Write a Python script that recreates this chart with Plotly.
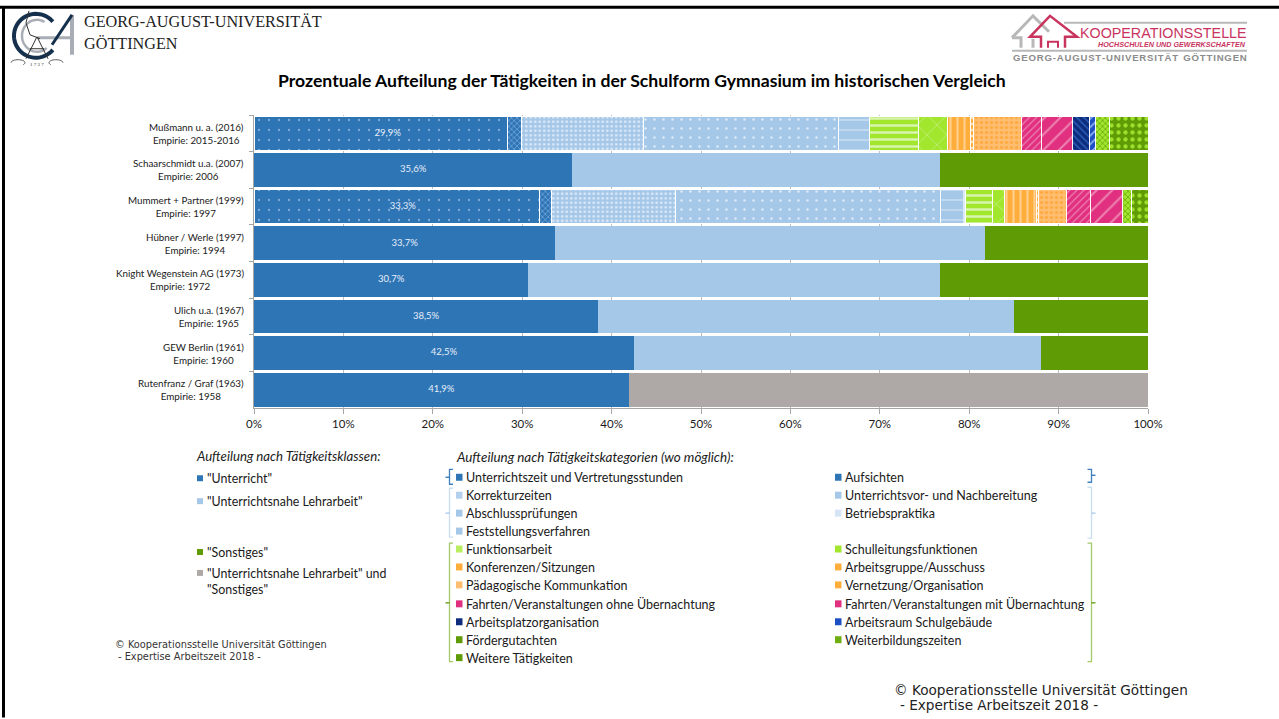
import numpy as np
import plotly.graph_objects as go

W, H = 1279, 719
PL, PR, PT, PB = 254, 1148, 114.5, 408.5

studies = ["Mußmann u. a. (2016)", "Schaarschmidt u.a. (2007)", "Mummert + Partner (1999)",
           "Hübner / Werle (1997)", "Knight Wegenstein AG (1973)", "Ulich u.a. (1967)",
           "GEW Berlin (1961)", "Rutenfranz / Graf (1963)"]
empirie = ["Empirie: 2015-2016", "Empirie: 2006", "Empirie: 1997", "Empirie: 1994",
           "Empirie: 1972", "Empirie: 1965", "Empirie: 1960", "Empirie: 1958"]
unterricht_total = [29.9, 35.6, 33.3, 33.7, 30.7, 38.5, 42.5, 41.9]

unterrichtszeit = [28.4, None, 31.9, None, None, None, None, None]
unterricht_gesamt = [None, 35.6, None, 33.7, 30.7, 38.5, 42.5, 41.9]
aufsichten = [1.5, None, 1.4, None, None, None, None, None]
korrektur = [13.7, None, 13.8, None, None, None, None, None]
vorbereitung = [21.8, None, 29.7, None, None, None, None, None]
nahe_gesamt = [None, 41.1, None, 48.1, 46.0, 46.5, 45.5, None]
abschluss = [3.4, None, 2.6, None, None, None, None, None]
betrieb = [0.1, None, 0.2, None, None, None, None, None]
funktion = [5.4, None, 3.0, None, None, None, None, None]
schulleitung = [3.3, None, 1.4, None, None, None, None, None]
konferenzen = [2.5, None, 3.5, None, None, None, None, None]
arbeitsgruppe = [0.4, None, 0.2, None, None, None, None, None]
paedagogik = [5.4, None, 3.2, None, None, None, None, None]
fahrten_ohne = [2.2, None, 2.7, None, None, None, None, None]
fahrten_mit = [3.4, None, 3.6, None, None, None, None, None]
platz = [2.0, None, None, None, None, None, None, None]
raum = [0.6, None, None, None, None, None, None, None]
foerder = [1.6, None, 1.0, None, None, None, None, None]
weiterbildung = [4.3, None, 1.8, None, None, None, None, None]
sonstiges = [None, 23.3, None, 18.2, 23.3, 15.0, 12.0, None]
nahe_und_sonstiges = [None, None, None, None, None, None, None, 58.1]

x_ticks = [0, 10, 20, 30, 40, 50, 60, 70, 80, 90, 100]

title_text = "Prozentuale Aufteilung der Tätigkeiten in der Schulform Gymnasium im historischen Vergleich"
klassen_title = "Aufteilung nach Tätigkeitsklassen:"
kategorien_title = "Aufteilung nach Tätigkeitskategorien (wo möglich):"
klassen_legend = ['"Unterricht"', '"Unterrichtsnahe Lehrarbeit"', '"Sonstiges"',
                  '"Unterrichtsnahe Lehrarbeit" und<br>"Sonstiges"']
kat_left = ["Unterrichtszeit und Vertretungsstunden", "Korrekturzeiten", "Abschlussprüfungen",
            "Feststellungsverfahren", "Funktionsarbeit", "Konferenzen/Sitzungen",
            "Pädagogische Kommunkation", "Fahrten/Veranstaltungen ohne Übernachtung",
            "Arbeitsplatzorganisation", "Fördergutachten", "Weitere Tätigkeiten"]
kat_right = ["Aufsichten", "Unterrichtsvor- und Nachbereitung", "Betriebspraktika", None,
             "Schulleitungsfunktionen", "Arbeitsgruppe/Ausschuss", "Vernetzung/Organisation",
             "Fahrten/Veranstaltungen mit Übernachtung", "Arbeitsraum Schulgebäude", "Weiterbildungszeiten", None]

BLUE, LBLUE, GREEN, GRAY = "#2e75b6", "#a5c7e8", "#5f9b05", "#aea8a6"
LIME, ORANGE, LORANGE, PINK, NAVY = "#a2e62e", "#ffad3b", "#ffbd70", "#e0307f", "#0d2c7c"


def pat(bg, fg, shape, size, sol):
    return dict(bgcolor=bg, fgcolor=fg, fgopacity=1, shape=shape, size=size, solidity=sol)


series = [
    ("Unterrichtszeit", unterrichtszeit, BLUE, pat(BLUE, "#7fabd8", ".", 10, 0.04)),
    ("Unterricht", unterricht_gesamt, BLUE, None),
    ("Aufsichten", aufsichten, BLUE, pat(BLUE, "#7fb0e0", "x", 4, 0.3)),
    ("Korrekturzeiten", korrektur, LBLUE, pat(LBLUE, "#d8e8f8", ".", 4.5, 0.3)),
    ("Vorbereitung", vorbereitung, LBLUE, pat(LBLUE, "#dcebfa", ".", 9, 0.06)),
    ("Unterrichtsnahe Lehrarbeit", nahe_gesamt, LBLUE, None),
    ("Abschlussprüfungen", abschluss, LBLUE, pat(LBLUE, "#c9dff4", "-", 10, 0.15)),
    ("Betriebspraktika", betrieb, "#dce9f6", None),
    ("Funktionsarbeit", funktion, LIME, pat(LIME, "#d9f5b0", "-", 7, 0.35)),
    ("Schulleitungsfunktionen", schulleitung, LIME, pat(LIME, "#c8f08a", "x", 14, 0.1)),
    ("Konferenzen/Sitzungen", konferenzen, ORANGE, pat(ORANGE, "#ffd08f", "|", 7, 0.3)),
    ("Arbeitsgruppe/Ausschuss", arbeitsgruppe, ORANGE, pat(ORANGE, "#ffe0b5", "-", 6, 0.4)),
    ("Pädagogische Kommunikation", paedagogik, LORANGE, pat(LORANGE, "#ffa940", ".", 5, 0.3)),
    ("Fahrten ohne", fahrten_ohne, PINK, pat(PINK, "#ee80b0", "/", 5, 0.25)),
    ("Fahrten mit", fahrten_mit, PINK, pat(PINK, "#ee80b0", "/", 11, 0.2)),
    ("Arbeitsplatzorganisation", platz, NAVY, pat(NAVY, "#2a5cb8", "\\", 5, 0.3)),
    ("Arbeitsraum Schulgebäude", raum, "#1d4fc4", pat("#1d4fc4", "#8cb0f0", "/", 6, 0.3)),
    ("Fördergutachten", foerder, LIME, pat(LIME, "#5f9b05", "x", 4, 0.3)),
    ("Weiterbildungszeiten", weiterbildung, GREEN, pat(GREEN, "#9edf2b", ".", 7, 0.3)),
    ("Sonstiges", sonstiges, GREEN, None),
    ("Unterrichtsnahe Lehrarbeit und Sonstiges", nahe_und_sonstiges, GRAY, None),
]

fig = go.Figure()
for name, vals, col, pattern in series:
    marker = dict(color=col, line=dict(color="white", width=1 if pattern else 0))
    if pattern:
        marker["pattern"] = pattern
    fig.add_trace(go.Bar(name=name, y=studies, x=vals, orientation="h", marker=marker,
                         hoverinfo="skip", showlegend=False))

fig.add_trace(go.Scatter(x=[v / 2 for v in unterricht_total], y=studies, mode="text",
                         text=[f"{v:.1f}%".replace(".", ",") for v in unterricht_total],
                         textposition="middle center",
                         textfont=dict(family="Lato", size=9.5, color="#e6eef8"),
                         hoverinfo="skip", showlegend=False))


def px(x):
    return (x - PL) / (PR - PL)


def py(y):
    return (PB - y) / (PB - PT)


annots, shapes = [], []


def text(x, y, s, size=12, family="Lato", color="#1a1a1a", xanchor="left", align="left", italic=False, bold=False):
    if italic:
        s = f"<i>{s}</i>"
    if bold:
        s = f"<b>{s}</b>"
    annots.append(dict(x=px(x), y=py(y), xref="paper", yref="paper", text=s, showarrow=False,
                       xanchor=xanchor, yanchor="middle", align=align, borderpad=0, borderwidth=0,
                       font=dict(family=family, size=size, color=color)))


def poly(points, color, width=1, fill=None, closed=False):
    d = "M " + " L ".join(f"{px(a):.5f},{py(b):.5f}" for a, b in points) + (" Z" if closed else "")
    s = dict(type="path", path=d, xref="paper", yref="paper", line=dict(color=color, width=width))
    if fill:
        s["fillcolor"] = fill
    shapes.append(s)


def rect(x0, y0, x1, y1, color):
    shapes.append(dict(type="rect", xref="paper", yref="paper", x0=px(x0), x1=px(x1),
                       y0=py(y0), y1=py(y1), fillcolor=color, line=dict(width=0)))


def arc(cx, cy, rx, ry, a0, a1, n=50):
    t = np.radians(np.linspace(a0, a1, n))
    return list(zip(cx + rx * np.cos(t), cy + ry * np.sin(t)))


# page border
poly([(0, 6.5), (W, 6.5)], "black", 3)
poly([(3.5, 6.5), (3.5, H)], "black", 3)

# study labels
for i, (a, b) in enumerate(zip(studies, empirie)):
    yc = PT + (PB - PT) * (i + 0.5) / len(studies)
    text(244, yc, f"{a}<br>{b}", size=9.8, xanchor="right", align="center")

# title
text(641.5, 80, title_text, size=17.6, color="black", xanchor="center", bold=True)

# left legend
text(196, 456.5, klassen_title, size=13.2, italic=True)
for yy, c in zip([479, 502, 553, 574], [BLUE, LBLUE, GREEN, GRAY]):
    rect(197, yy - 3, 203, yy + 3, c)
for yy, s in zip([479.5, 502, 553.5, 582.5], klassen_legend):
    text(207, yy, s, size=12.4)

# category legend
text(456, 457.5, kategorien_title, size=13.4, italic=True)
rows = [478, 496, 514, 532, 550, 568, 586, 605, 623, 641, 659]
left_cols = [BLUE, "#b5d0ec", "#a5c7e8", "#a5c7e8", "#b8ee60", ORANGE, LORANGE, PINK, NAVY, GREEN, GREEN]
right_cols = [BLUE, LBLUE, "#d5e5f5", None, LIME, ORANGE, ORANGE, PINK, "#1d4fc4", "#6fae10", None]
for yy, s, c in zip(rows, kat_left, left_cols):
    rect(456, yy - 3.5, 462.5, yy + 3.5, c)
    text(466, yy + 0.5, s, size=12.5)
for yy, s, c in zip(rows, kat_right, right_cols):
    if s:
        rect(835, yy - 3.5, 841.5, yy + 3.5, c)
        text(845, yy + 0.5, s, size=12.5)

# braces
for (y0, y1, ym, c, cm) in [(470, 485, 478, "#3f80bf", BLUE), (489, 538, 514, "#c9def2", LBLUE),
                            (544, 663, 604, "#a3c96a", GREEN)]:
    poly([(453, y0), (449.5, y0), (449.5, y1), (453, y1)], c, 1.3)
    poly([(445.5, ym), (449.5, ym)], cm, 1.3)
for (y0, y1, ym, c, cm) in [(470, 483, 476, "#3f80bf", BLUE), (488, 539, 514, "#c9def2", LBLUE),
                            (544, 663, 604, "#a3c96a", GREEN)]:
    poly([(1087.5, y0), (1091.5, y0), (1091.5, y1), (1087.5, y1)], c, 1.3)
    poly([(1091.5, ym), (1095.5, ym)], cm, 1.3)

# copyright lines
text(115, 646, "© Kooperationsstelle Universität Göttingen", size=9.8, family="DejaVu Sans", color="#333333")
text(118, 658, "- Expertise Arbeitszeit 2018 -", size=9.8, family="DejaVu Sans", color="#333333")
text(894, 691, "© Kooperationsstelle Universität Göttingen", size=13.6, family="DejaVu Sans", color="#222222")
text(900, 707, "- Expertise Arbeitszeit 2018 -", size=13.6, family="DejaVu Sans", color="#222222")

# university logo
poly(arc(36, 35, 22, 22, 40, 320), "#15304d", 4)
poly(arc(37, 35, 15, 16, 50, 300), "#a9adb5", 2.5)
poly([(38, 37), (72, 37)], "#a9adb5", 3)
poly([(72, 14), (72, 54)], "#a9adb5", 4)
poly([(72, 14), (52, 44)], "#15304d", 3)
poly([(29, 10), (26, 22), (30, 34), (40, 38)], "#333333", 1)
poly([(37, 36), (26, 58)], "#333333", 1)
poly([(37, 36), (48, 58)], "#333333", 1)
poly([(30, 48), (44, 48)], "#333333", 1)
poly(arc(18, 62, 7, 3, 180, 400, 20), "#333333", 0.8)
poly(arc(56, 62, 7, 3, 140, 360, 20), "#333333", 0.8)
text(37, 64, "1 7 3 7", size=5, family="Liberation Serif", xanchor="center", color="#333333")
text(84, 21, "GEORG-AUGUST-UNIVERSITÄT", size=16.2, family="Liberation Serif", color="#222222")
text(84, 43, "GÖTTINGEN", size=16.2, family="Liberation Serif", color="#222222")

# Kooperationsstelle logo
RED = "#c9345f"
LG = "#b8b8b8"
poly([(1012, 37), (1033, 15), (1049, 31)], LG, 3)
poly([(1012, 37), (1021, 37), (1021, 47)], LG, 3)
poly([(1033, 47), (1033, 38)], LG, 3)
poly([(1064, 22), (1247, 22)], LG, 2)
poly([(1012, 50), (1247, 50)], LG, 2)
poly([(1041, 47), (1041, 36), (1030, 36), (1050, 15), (1077, 36), (1065, 36), (1065, 47)], RED, 2.5)
poly([(1048, 47), (1048, 41), (1058, 41), (1058, 47)], RED, 2)
text(1247, 32, "KOOPERATIONSSTELLE", size=14.3, family="Liberation Sans", color=RED, xanchor="right")
text(1246, 44, "HOCHSCHULEN UND GEWERKSCHAFTEN", size=7.2, family="Liberation Sans", color=RED, xanchor="right", italic=True, bold=True)
text(1247, 57, "G E O R G - A U G U S T - U N I V E R S I T Ä T&nbsp;&nbsp;G Ö T T I N G E N".replace(" ", "\u200a"), size=9.6, family="Liberation Sans", color="#8c8c8c", xanchor="right", bold=True)

fig.update_layout(
    width=W, height=H, barmode="stack", bargap=0.08, plot_bgcolor="white", paper_bgcolor="white",
    margin=dict(l=PL, r=W - PR, t=PT, b=H - PB, pad=0), font=dict(family="Lato", color="#1a1a1a"),
    annotations=annots, shapes=shapes,
    xaxis=dict(range=[0, 100], tickvals=x_ticks, ticktext=[f"{v}%" for v in x_ticks],
               ticks="outside", ticklen=5, tickcolor="#a6a6a6", showgrid=True, gridcolor="#bdbdbd",
               showline=True, linecolor="#a6a6a6", zeroline=False, tickfont=dict(family="Lato", size=11.5, color="#1a1a1a")),
    yaxis=dict(autorange="reversed", type="category", categoryorder="array", categoryarray=studies,
               showticklabels=False, ticks="outside", ticklen=4, tickcolor="#a6a6a6", tickson="boundaries",
               showgrid=False, showline=True, linecolor="#a6a6a6", zeroline=False),
)

fig.write_html("out.html", config={"displayModeBar": False},
               post_script="document.body.style.margin='0';document.body.style.overflow='hidden';")
